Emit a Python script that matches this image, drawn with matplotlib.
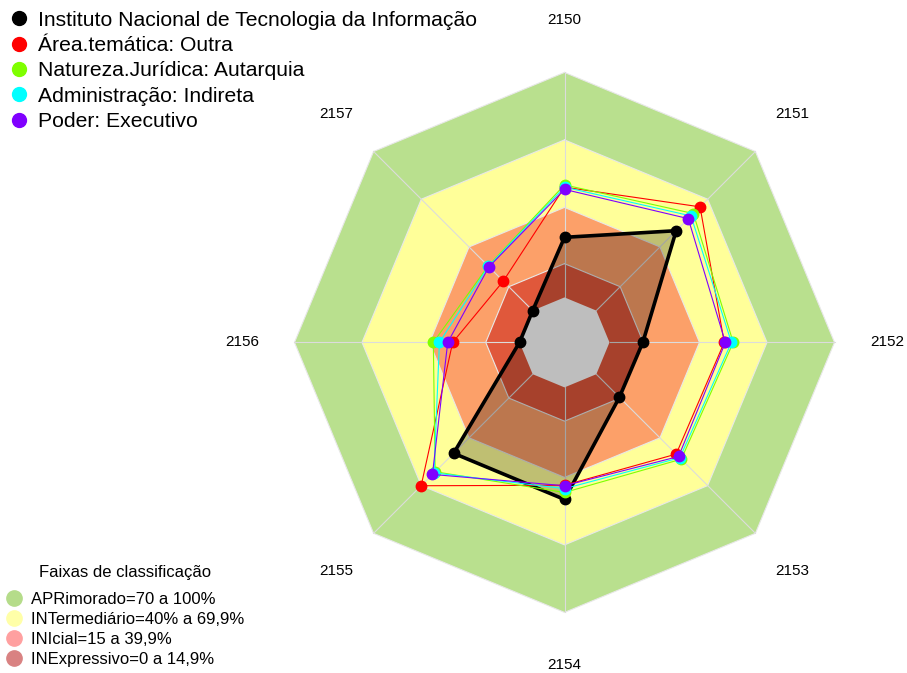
import numpy as np
import matplotlib.pyplot as plt
from matplotlib.lines import Line2D

plt.rcParams['font.family'] = ['Liberation Sans', 'DejaVu Sans']

# indicadores (eixos do radar), sentido horario a partir do topo
eixos = ['2150', '2151', '2152', '2153', '2154', '2155', '2156', '2157']

# valores em % por serie
instituto = [26.7, 50.2, 14.8, 14.5, 49.8, 49.7, 0.0, 0.0]
area_tematica = [49.0, 65.2, 51.0, 50.2, 43.5, 70.1, 29.7, 18.5]
natureza = [50.0, 61.0, 55.0, 53.4, 46.7, 61.3, 38.3, 28.0]
administracao = [49.0, 59.5, 54.2, 52.5, 45.0, 62.0, 35.6, 27.8]
poder = [48.0, 57.8, 51.5, 51.7, 43.7, 63.0, 31.9, 27.5]

series = [
    ('Instituto Nacional de Tecnologia da Informação', instituto, 'black'),
    ('Área.temática: Outra', area_tematica, '#FF0000'),
    ('Natureza.Jurídica: Autarquia', natureza, '#7FFF00'),
    ('Administração: Indireta', administracao, '#00FFFF'),
    ('Poder: Executivo', poder, '#8000FF'),
]

# faixas de classificacao (limite superior em %)
faixas_lim = [100, 70, 40, 15]
faixas_cor = ['#B9E08E', '#FFFF99', '#FCA069', '#E0583B']
faixas_nome = ['APRimorado=70 a 100%', 'INTermediário=40% a 69,9%',
               'INIcial=15 a 39,9%', 'INExpressivo=0 a 14,9%']
faixas_leg_cor = ['#B5DC8A', '#FFFFA8', '#FFA0A0', '#D98282']

n = len(eixos)
ang = np.arange(n) * 2 * np.pi / n


def raio(v):
    # centro vazado como no fmsb (seg=5)
    return 1 / 6 + 5 / 6 * np.asarray(v, dtype=float) / 100


def xy(v):
    r = raio(v)
    return r * np.sin(ang), r * np.cos(ang)


W, H = 907, 673
cx, cy, R = 564.5, 342.4, 270.0
fig = plt.figure(figsize=(W / 100, H / 100), dpi=100)
ax = fig.add_axes([0, 0, 1, 1])
ax.set_xlim(-cx / R, (W - cx) / R)
ax.set_ylim(-(H - cy) / R, cy / R)
ax.axis('off')

for lim, cor in zip(faixas_lim, faixas_cor):
    x, y = xy([lim] * n)
    ax.fill(x, y, color=cor, lw=0, zorder=1)
    ax.plot(np.append(x, x[0]), np.append(y, y[0]), color='#E8E8E8', lw=0.8, zorder=2)

xo, yo = xy([100] * n)
x0, y0 = xy([0] * n)
for i in range(n):
    ax.plot([x0[i], xo[i]], [y0[i], yo[i]], color='#DCDCDC', lw=0.8, zorder=2)

# preenchimento da serie principal
x, y = xy(instituto)
ax.fill(x, y, color='black', alpha=0.25, lw=0, zorder=3)

# centro cinza
ax.fill(x0, y0, color='#BEBEBE', lw=0, zorder=4)

for k, (nome, vals, cor) in enumerate(series):
    x, y = xy(vals)
    xs, ys = np.append(x, x[0]), np.append(y, y[0])
    if k == 0:
        ax.plot(xs, ys, color=cor, lw=2.6, zorder=5)
        ax.plot(x, y, 'o', color=cor, ms=7.5, zorder=5)
    else:
        ax.plot(xs, ys, color=cor, lw=0.8, zorder=6 + k)
        ax.plot(x, y, 'o', color=cor, ms=7.5, zorder=6 + k)

for a, lab in zip(ang, eixos):
    r = 1.195
    ax.text(r * np.sin(a), r * np.cos(a), lab, ha='center', va='center', fontsize=11)

h1 = [Line2D([], [], marker='o', ls='none', color=c, ms=10) for _, _, c in series]
leg1 = ax.legend(h1, [s[0] for s in series], loc='upper left', bbox_to_anchor=(0.0, 1.0),
                 bbox_transform=fig.transFigure, frameon=False, fontsize=15.2,
                 handletextpad=0.5, labelspacing=0.3, borderaxespad=0.4,
                 handlelength=0.8, borderpad=0.1)
ax.add_artist(leg1)

h2 = [Line2D([], [], marker='o', ls='none', color=c, ms=11) for c in faixas_leg_cor]
leg2 = ax.legend(h2, faixas_nome, loc='lower left', bbox_to_anchor=(0.0, 0.0),
                 bbox_transform=fig.transFigure, frameon=False, fontsize=12,
                 title='Faixas de classificação', title_fontsize=12,
                 handletextpad=0.5, labelspacing=0.3, borderaxespad=0.3,
                 handlelength=1.0, borderpad=0.05)
leg2._legend_box.sep = 9

fig.savefig('out.png', dpi=100)
